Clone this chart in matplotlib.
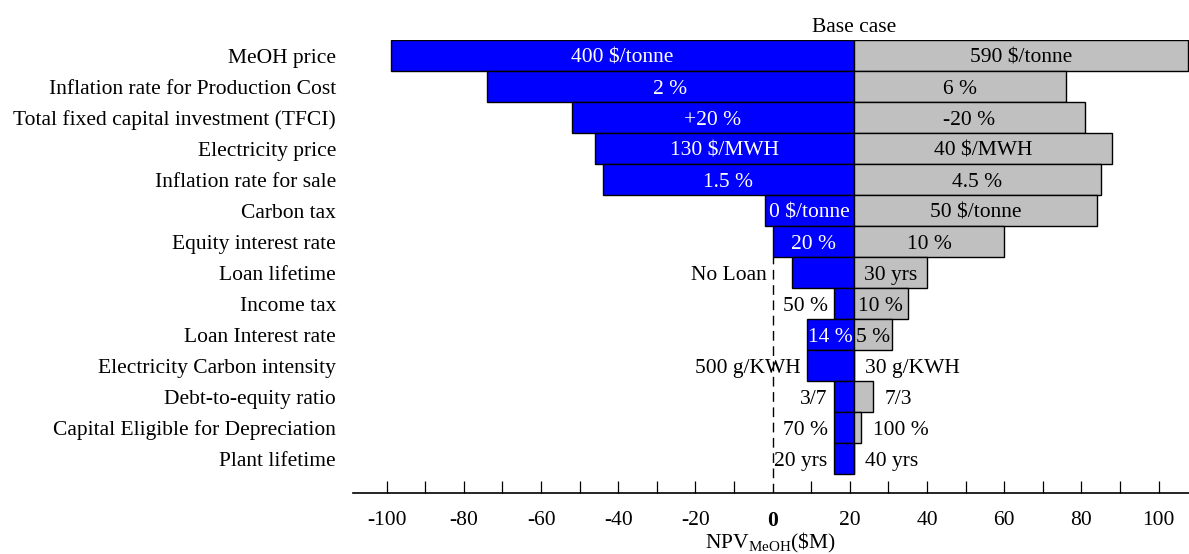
import numpy as np
import matplotlib
matplotlib.use("Agg")
import matplotlib.pyplot as plt

plt.rcParams["font.family"] = "Liberation Serif"
plt.rcParams["mathtext.fontset"] = "custom"
plt.rcParams["mathtext.rm"] = "Liberation Serif"
plt.rcParams["axes.unicode_minus"] = False

#------------- data (NPV of MeOH plant, $M) -------------#

base_case = 21

parameters = [
    "MeOH price",
    "Inflation rate for Production Cost",
    "Total fixed capital investment (TFCI)",
    "Electricity price",
    "Inflation rate for sale",
    "Carbon tax",
    "Equity interest rate",
    "Loan lifetime",
    "Income tax",
    "Loan Interest rate",
    "Electricity Carbon intensity",
    "Debt-to-equity ratio",
    "Capital Eligible for Depreciation",
    "Plant lifetime",
]

# blue bars (left end) and grey bars (right end)
low_npv = [-99, -74, -52, -46, -44, -2, 0, 5, 16, 9, 9, 16, 16, 16]
high_npv = [107.5, 76, 81, 88, 85, 84, 60, 40, 35, 31, 21, 26, 23, 21]

low_labels = ["400 $/tonne", "2 %", "+20 %", "130 $/MWH", "1.5 %", "0 $/tonne",
              "20 %", "No Loan", "50 %", "14 %", "500 g/KWH", "3/7", "70 %", "20 yrs"]
high_labels = ["590 $/tonne", "6 %", "-20 %", "40 $/MWH", "4.5 %", "50 $/tonne",
               "10 %", "30 yrs", "10 %", "5 %", "30 g/KWH", "7/3", "100 %", "40 yrs"]

x_major = [-100, -80, -60, -40, -20, 0, 20, 40, 60, 80, 100]
x_minor = [-90, -70, -50, -30, -10, 10, 30, 50, 70, 90]

FS = 15.5
# extra shift (points) for outside labels that sit further from their bar
NUDGE = {"No Loan": -13}


def put_label(ax, renderer, y, start, end, text, inside_color):
    """
    Write the label centred in the bar, or next to the bar end if it does not fit
    """
    t = ax.text((start + end) / 2, y, text, ha="center", va="center_baseline",
                color=inside_color, fontsize=FS)
    text_w = t.get_window_extent(renderer).width
    x0 = ax.transData.transform((start, 0))[0]
    x1 = ax.transData.transform((end, 0))[0]
    if text_w <= abs(x1 - x0) + 4:
        return
    t.remove()
    extra = NUDGE.get(text, 0)
    if end < start:
        ax.annotate(text, (end, y), xytext=(-5 + extra, 0), textcoords="offset points",
                    ha="right", va="center_baseline", fontsize=FS)
    else:
        ax.annotate(text, (end, y), xytext=(8 + extra, 0), textcoords="offset points",
                    ha="left", va="center_baseline", fontsize=FS)


def main():
    n = len(parameters)
    y = np.arange(n)[::-1]

    fig = plt.figure(figsize=(11.89, 5.54), dpi=100)
    ax = fig.add_axes([352.7 / 1189, 0.1096, 1 - 352.7 / 1189, 0.8182])

    low_w = [lo - base_case for lo in low_npv]
    high_w = [hi - base_case for hi in high_npv]
    ax.barh(y, low_w, left=base_case, height=1.0, color="#0000ff",
            edgecolor="black", linewidth=1.0)
    ax.barh(y, high_w, left=base_case, height=1.0, color="#c0c0c0",
            edgecolor="black", linewidth=1.0)

    ax.set_xlim(-108.8, 107.85)
    ax.set_ylim(-1.11, n - 0.5)

    # dashed line at zero NPV below the bars that cross it
    ax.plot([0, 0], [-1.11, 6.5], color="black", lw=1.0, ls=(0, (7, 4)))

    ax.set_yticks(y)
    ax.set_yticklabels(parameters, fontsize=FS)
    ax.tick_params(axis="y", length=0, pad=12)

    ax.set_xticks(x_major)
    ax.set_xticklabels([str(v) for v in x_major], fontsize=FS)
    ax.set_xticks(x_minor, minor=True)
    ax.tick_params(axis="x", which="both", direction="in", length=8.5, width=0.9, pad=13)
    for lbl in ax.get_xticklabels():
        if lbl.get_text() == "0":
            lbl.set_fontweight("bold")
    ax.xaxis.get_major_ticks()[5].tick1line.set_visible(False)

    for s in ["left", "right", "top"]:
        ax.spines[s].set_visible(False)
    ax.spines["bottom"].set_linewidth(1.2)

    ax.set_xlabel(r"NPV$_{\mathrm{MeOH}}$(\$M)", fontsize=FS, labelpad=0)
    ax.text(base_case, n - 0.5 + 0.4, "Base case", ha="center", va="center",
            fontsize=FS, clip_on=False)

    fig.canvas.draw()
    renderer = fig.canvas.get_renderer()
    for i in range(n):
        put_label(ax, renderer, y[i], base_case, low_npv[i], low_labels[i], "white")
        put_label(ax, renderer, y[i], base_case, high_npv[i], high_labels[i], "black")

    fig.savefig("out.png", dpi=100)


if __name__ == "__main__":
    main()
